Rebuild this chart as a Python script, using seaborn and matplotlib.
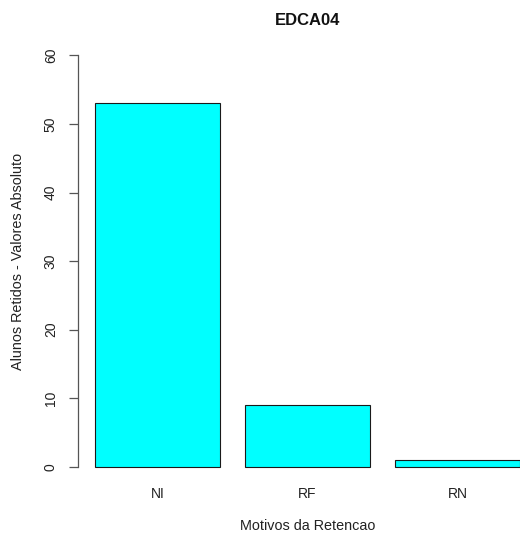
import matplotlib
matplotlib.use('Agg')
import matplotlib.pyplot as plt
import seaborn as sns
import pandas as pd

sns.set_style('white')
plt.rcParams['font.family'] = ['Liberation Sans', 'DejaVu Sans']

motivos = ['NI', 'RF', 'RN']
retidos = [53, 9, 1]
yticks = [0, 10, 20, 30, 40, 50, 60]

df = pd.DataFrame({'motivo': motivos, 'alunos': retidos})

DPI = 100
# plot region in pixels: x 78..537 (runs past the right edge), y 39..483.1
top_px, bot_px = 39.0, 483.1
h_px = bot_px - top_px
fig = plt.figure(figsize=(5.20, 5.35), dpi=DPI)
ax = fig.add_axes([78 / 520, (535 - bot_px) / 535, 459 / 520, h_px / 535])

sns.barplot(data=df, x='motivo', y='alunos', color='#00ffff', saturation=1,
            width=1 / 1.2, edgecolor='#1a1a1a', linewidth=0.8, ax=ax)

ax.set_xlim(-0.53, 2.53)
ax.set_ylim(-2.4, 62.4)
ax.set_yticks(yticks)
ax.set_yticklabels([str(t) for t in yticks], rotation=90, va='center')

for s in ['top', 'right', 'bottom']:
    ax.spines[s].set_visible(False)
ax.spines['left'].set_bounds(0, 60)
ax.spines['left'].set_color('#555555')
ax.spines['left'].set_linewidth(0.9)

ax.tick_params(axis='y', length=6.5, width=0.9, color='#555555', pad=8,
               labelsize=10, labelcolor='#222222', left=True)
ax.tick_params(axis='x', length=0, pad=3, labelsize=10, labelcolor='#222222')

ax.set_xlabel('Motivos da Retencao', fontsize=10.4, color='#222222', va='center')
ax.set_ylabel('Alunos Retidos - Valores Absoluto', fontsize=10.4, color='#222222', va='center')
ax.xaxis.set_label_coords(0.5, (bot_px - 526) / h_px)
ax.yaxis.set_label_coords((18 - 78) / 459, 0.5)
ax.set_title('EDCA04', fontsize=12, fontweight='bold', color='#111111',
             y=(bot_px - 20.5) / h_px, va='center', pad=0)

fig.savefig('out.png', dpi=DPI, facecolor='white')
plt.close()
